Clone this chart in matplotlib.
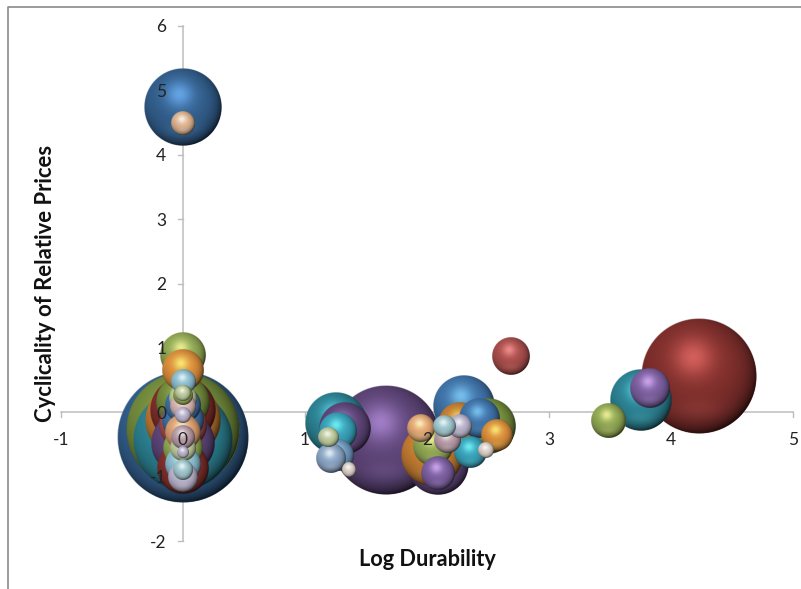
import numpy as np
import matplotlib
matplotlib.use("Agg")
import matplotlib.pyplot as plt
from matplotlib.lines import Line2D

plt.rcParams['font.family'] = ['Lato', 'DejaVu Sans']
plt.rcParams['axes.unicode_minus'] = False

# bubble data: log durability, cyclicality, bubble size, colour group
durability = [0, 0, 0, 0, 0, 0, 0, 0, 0, 0, 0, 0, 0, 0, 0, 0, 0, 0, 0, 0, 0, 0,
              0, 0, 0, 0, 0,
              0, 0,
              1.25, 1.66, 1.33, 1.27, 1.19, 1.27, 1.21, 1.36,
              2.09, 2.04, 2.05, 2.09, 1.95, 2.30, 2.50, 2.27, 2.43, 2.57,
              2.35, 2.48, 2.27, 2.14, 2.16, 2.69,
              4.23, 3.75, 3.83, 3.49]
cyclicality = [-0.38, -0.27, -0.43, -0.12, 0.04, 0.89, 0.66, 0.16, 0.12, -0.47,
               -0.86, -0.30, -0.55, -0.38, -0.61, 0.47, 0.30, 0.27, 0.09, -0.04,
               -1.00, -0.89,
               -0.81, -0.12, -0.20, 0.22, -0.55,
               4.74, 4.50,
               -0.16, -0.43, -0.24, -0.29, -0.38, -0.66, -0.71, -0.89,
               -0.81, -0.66, -0.53, -0.94, -0.24, 0.09, -0.22, -0.19, -0.09, -0.35,
               -0.61, -0.58, -0.22, -0.22, -0.43, 0.88,
               0.57, 0.19, 0.38, -0.13]
bubble_size = [66, 57, 50, 38, 33, 23, 21, 27, 18, 32,
               26, 18, 13, 12, 6, 12.5, 8, 10, 13, 8,
               15, 10,
               18, 21, 24, 14, 20,
               39, 12,
               31, 55, 26, 19, 10, 16, 15, 7,
               31, 31, 20, 17, 14, 31, 28, 22, 20, 16,
               16, 8, 12, 11, 13, 19,
               58, 31, 20, 17.5]
group = ['blue', 'olive', 'teal', 'orange', 'red', 'lgreen', 'lorange', 'olive', 'mblue', 'purple',
         'red', 'porange', 'pgreen', 'mauve', 'lav', 'sky', 'pgreen', 'lgreen', 'pink', 'lav',
         'lav', 'pteal',
         'sky', 'mblue', 'rose', 'pgreen', 'lgreen',
         'blue', 'peach',
         'teal', 'purple', 'purple', 'cyan', 'pgreen', 'dsky', 'sblue', 'pale',
         'purple', 'orange', 'lgreen', 'lpurple', 'peach2', 'mblue', 'olive', 'orange', 'mblue', 'lorange',
         'cyan', 'pale', 'lav', 'pteal', 'mauve', 'rose',
         'red', 'teal', 'lpurple', 'lgreen']

palette = {
    'blue': '#366596', 'olive': '#7A9440', 'teal': '#2F8A9C', 'orange': '#CE8234',
    'red': '#88322F', 'lgreen': '#98B158', 'lorange': '#E8963F', 'mblue': '#4379B2',
    'purple': '#63497F', 'porange': '#E8A878', 'pgreen': '#C8D6A4', 'mauve': '#C0A2AE',
    'lav': '#C2BCD6', 'sky': '#92C8DC', 'pink': '#E2BEBA', 'pteal': '#A6D0D8',
    'peach': '#EABC96', 'cyan': '#3CAAC4', 'sblue': '#92AED0', 'pale': '#E8DAD2',
    'lpurple': '#8264A8', 'peach2': '#F2B27A', 'rose': '#B25250', 'dsky': '#74A0C8',
}

X_TICKS = [-1, 0, 1, 2, 3, 4, 5]
Y_TICKS = [-2, -1, 0, 1, 2, 3, 4, 5, 6]

W, H = 801, 589
fig = plt.figure(figsize=(W / 100, H / 100), dpi=100, facecolor='white')
L, R, T, B = 61, 793, 26, 541
ax = fig.add_axes([L / W, 1 - B / H, (R - L) / W, (B - T) / H])
ax.patch.set_alpha(0)

N = 200
_v, _u = np.mgrid[1:-1:N * 1j, -1:1:N * 1j]
_d = np.hypot(_u, _v)
_z = np.sqrt(np.clip(1 - _d ** 2, 0, 1))
DARK = 0.52 * (1 - _z) ** 1.3 * (1 + 0.75 * (_u - _v) / 1.4)
DARK += 0.10 * np.clip(0.35 - _v, 0, 1)
DARK = np.clip(DARK, 0, 0.92)
GLOW = 0.78 * np.exp(-((_u + 0.10) ** 2 + (_v - 0.33) ** 2) / 0.12)
GLOW += 0.22 * np.exp(-(_u ** 2 / 0.25 + (_v + 0.6) ** 2 / 0.035))
GLOW = np.clip(GLOW, 0, 1)
MASK = np.clip((1 - _d) * N / 2.5, 0, 1)


def sphere_image(hex_colour):
    c = np.array(matplotlib.colors.to_rgb(hex_colour))
    lit = np.clip(c * 1.45 + 0.14, 0, 1)
    rgb = c[None, None, :] * (1 - GLOW[..., None]) + lit[None, None, :] * GLOW[..., None]
    rgb = rgb * (1 - DARK[..., None])
    return np.dstack([rgb, MASK])


px_x = (R - L) / (X_TICKS[-1] - X_TICKS[0])
px_y = (B - T) / (Y_TICKS[-1] - Y_TICKS[0])
order = sorted(range(len(bubble_size)), key=lambda i: -bubble_size[i])
for k, i in enumerate(order):
    x, y, r = durability[i], cyclicality[i], bubble_size[i]
    d_pt = 2 * (r - 1.2) * 72 / 100
    ax.scatter([x], [y], s=d_pt ** 2, color=palette[group[i]], linewidths=0,
               zorder=5 + 2 * k, clip_on=False)
    ax.imshow(sphere_image(palette[group[i]]),
              extent=(x - r / px_x, x + r / px_x, y - r / px_y, y + r / px_y),
              aspect='auto', interpolation='hanning', interpolation_stage='rgba',
              zorder=6 + 2 * k, clip_on=False)

for s in ('top', 'right'):
    ax.spines[s].set_visible(False)
for s in ('left', 'bottom'):
    ax.spines[s].set_position('zero')
    ax.spines[s].set_color('#bdbdbd')
    ax.spines[s].set_linewidth(1.1)
    ax.spines[s].set_zorder(1)

ax.set_xticks(X_TICKS)
ax.set_yticks(Y_TICKS)
ax.tick_params(axis='both', length=0, labelsize=12.5, labelcolor='#222222')
ax.tick_params(axis='x', pad=14)
ax.tick_params(axis='y', pad=12)
ax.set_axisbelow(False)
ax.xaxis.set_zorder(500)
ax.yaxis.set_zorder(500)
# tick stubs stay beneath bubbles
for xt in X_TICKS:
    ax.plot([xt, xt], [0, -5 / px_y], color='#bdbdbd', lw=1, zorder=1, clip_on=False)
for yt in Y_TICKS:
    ax.plot([0, -5 / px_x], [yt, yt], color='#bdbdbd', lw=1, zorder=1, clip_on=False)
ax.set_xlim(X_TICKS[0], X_TICKS[-1])
ax.set_ylim(Y_TICKS[0], Y_TICKS[-1])

fig.text(427 / W, 1 - 559 / H, 'Log Durability', ha='center', va='center',
         fontsize=15.7, fontweight='bold', color='#111111')
fig.text(46 / W, 1 - 283 / H, 'Cyclicality of Relative Prices', ha='center', va='center',
         rotation=90, fontsize=15.9, fontweight='bold', color='#111111')

# outer chart frame
fig.add_artist(Line2D([7.5 / W, 7.5 / W, 1], [0, 1 - 6.5 / H, 1 - 6.5 / H],
                      color='#8a8a8a', lw=1.2))

fig.savefig('out.png', dpi=100, facecolor='white')
